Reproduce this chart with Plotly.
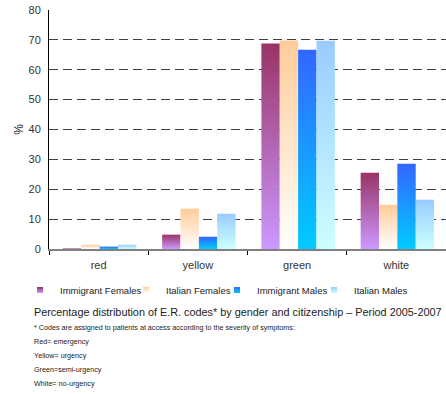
import plotly.graph_objects as go

# Triage colour codes and the share (%) of accesses per group
categories = ["red", "yellow", "green", "white"]
series_names = ["Immigrant Females", "Italian Females", "Immigrant Males", "Italian Males"]
immigrant_females = [0.2, 4.8, 68.8, 25.5]
italian_females = [1.4, 13.5, 69.8, 14.8]
immigrant_males = [0.8, 4.1, 66.7, 28.5]
italian_males = [1.4, 11.8, 69.7, 16.5]
y_ticks = [0, 10, 20, 30, 40, 50, 60, 70, 80]

caption = "Percentage distribution of E.R. codes* by gender and citizenship \u2013 Period 2005-2007"
footnotes = [
    "* Codes are assigned to patients at access according to the severity of symptoms:",
    "Red= emergency",
    "Yellow= urgency",
    "Green=semi-urgency",
    "White= no-urgency",
]

# (top colour, bottom colour) of each series' vertical gradient
gradients = [
    ("#993366", "#CC99FF"),
    ("#FFCC99", "#FFFFFF"),
    ("#3366FF", "#00CCFF"),
    ("#99CCFF", "#CCFFFF"),
]
# legend entry widths (px) so the entries are spaced like the layout below
legend_widths = [61, 46, 52, 60]

W, H = 446, 394
ML, MR, MT, MB = 49, 0, 10, 145
PW, PH = W - ML - MR, H - MT - MB

BAR_W = 0.185
GROUP_HALF = 0.36

FONT = "Liberation Sans, Arial, sans-serif"


def px_x(px):
    return (px - ML) / PW


def px_y(py):
    return (H - MB - py) / PH


fig = go.Figure()
all_series = [immigrant_females, italian_females, immigrant_males, italian_males]
for j, (name, vals, (top, bottom)) in enumerate(zip(series_names, all_series, gradients)):
    for i, v in enumerate(vals):
        x0 = i + 0.5 - GROUP_HALF + j * BAR_W
        x1 = x0 + BAR_W
        fig.add_trace(go.Scatter(
            x=[x0, x1, x1, x0, x0], y=[0, 0, v, v, 0],
            mode="none", fill="toself", fillcolor=top,
            fillgradient=dict(type="vertical", colorscale=[[0, bottom], [1, top]]),
            showlegend=False, hoverinfo="skip",
        ))
    # legend entry
    fig.add_trace(go.Scatter(
        x=[None], y=[None], mode="markers", name=name,
        legendwidth=legend_widths[j],
        marker=dict(symbol="square", size=6, color=top,
                    gradient=dict(type="vertical", color=bottom)),
    ))

annotations = [dict(
    text=caption, x=px_x(32), y=px_y(312), xref="paper", yref="paper",
    xanchor="left", yanchor="middle", showarrow=False,
    font=dict(family=FONT, size=10.85, color="#222222"),
)]
for k, line in enumerate(footnotes):
    annotations.append(dict(
        text=line, x=px_x(32), y=px_y(327 + 14 * k), xref="paper", yref="paper",
        xanchor="left", yanchor="middle", showarrow=False,
        font=dict(family=FONT, size=7.2, color="#222222"),
    ))

fig.update_layout(
    width=W, height=H,
    margin=dict(l=ML, r=MR, t=MT, b=MB),
    paper_bgcolor="white", plot_bgcolor="white",
    font=dict(family=FONT, size=11, color="#222222"),
    showlegend=True,
    legend=dict(
        orientation="h", x=px_x(20), y=px_y(290), xanchor="left", yanchor="middle",
        font=dict(family=FONT, size=9.5, color="#222222"),
        bgcolor="rgba(0,0,0,0)", borderwidth=0,
    ),
    annotations=annotations,
    xaxis=dict(
        range=[0, 4], tickmode="array",
        tickvals=[i + 0.5 for i in range(len(categories))], ticktext=categories,
        ticks="", showgrid=False, zeroline=False,
        showline=True, linecolor="#808080", linewidth=2,
        ticklabelstandoff=5,
        minor=dict(tickmode="array", tickvals=list(range(len(categories) + 1)),
                   ticks="outside", ticklen=4, tickcolor="#000000", showgrid=False),
        tickfont=dict(size=11, color="#333333"),
    ),
    yaxis=dict(
        range=[0, 80], tickmode="array", tickvals=y_ticks,
        ticks="", showgrid=True, gridcolor="#404040", gridwidth=1, griddash="9px,5px",
        zeroline=False, showline=True, linecolor="#000000", linewidth=1,
        ticklabelstandoff=5,
        tickfont=dict(size=11, color="#333333"),
        title=dict(text="%", standoff=2, font=dict(size=12, color="#222222")),
    ),
)

fig.write_html("out.html")
